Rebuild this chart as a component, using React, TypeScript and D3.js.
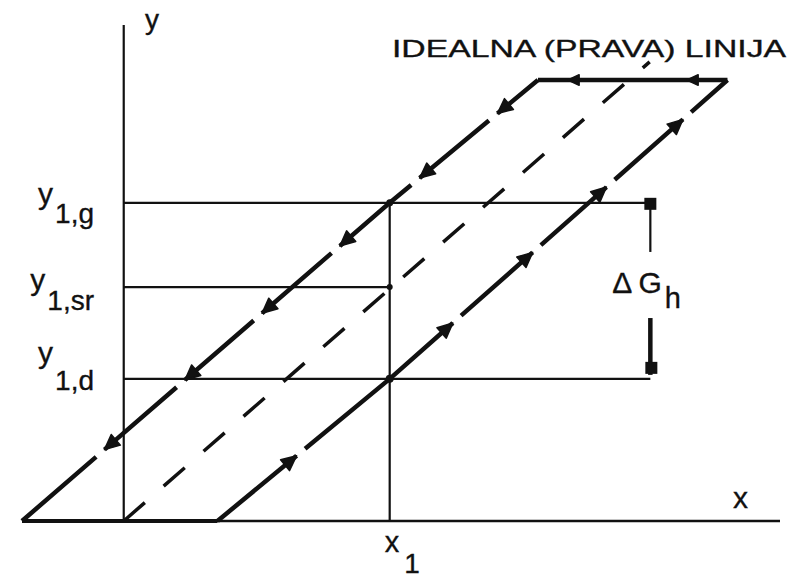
import React from "react";
import * as d3 from "d3";

// Hysteresis loop around the ideal straight characteristic y = f(x)
type Pt = [number, number];

const X_DOMAIN: Pt = [-1.53, 9.87];
const Y_DOMAIN: Pt = [0, 8.48];

const x1 = 4;
const levels = [
  { key: "g", value: 5.44, sub: "1,g" },
  { key: "sr", value: 4.0, sub: "1,sr" },
  { key: "d", value: 2.43, sub: "1,d" },
];
const levelLineEnd = 7.92;

// branches of the loop, listed in the direction of travel
const descending: Pt[] = [
  [6.23, 7.54],
  [4, 5.44],
  [-1.53, 0],
];
const ascending: Pt[] = [
  [1.41, 0],
  [4, 2.43],
  [9.08, 7.54],
];
const topEdge: Pt[] = [
  [9.08, 7.54],
  [6.23, 7.54],
];
const bottomEdge: Pt[] = [
  [-1.53, 0],
  [1.41, 0],
];
const ideal: Pt[] = [
  [0, 0],
  [7.91, 7.85],
];

// x positions of the direction arrows on each branch
const descendingArrows = [5.62, 4.45, 3.25, 2.08, 0.92, -0.29];
const ascendingArrows = [2.6, 4.95, 6.15, 7.26, 8.41];
const topArrows = [8.47, 6.68];

// extent of the ΔG_h dimension marks
const deltaTopEnd = 4.6;
const deltaBottomStart = 3.47;

const W = 793;
const H = 581;
const INK = "#111";
const FONT = "'Liberation Sans', Arial, sans-serif";

const xs = d3.scaleLinear().domain(X_DOMAIN).range([22, 780]);
const ys = d3.scaleLinear().domain(Y_DOMAIN).range([521, 25]);

const toPx = (p: Pt): Pt => [xs(p[0]), ys(p[1])];

function Branch({
  pts,
  arrows,
  gap,
  width,
  head = 1,
}: {
  pts: Pt[];
  arrows: number[];
  gap: number;
  width: number;
  head?: number;
}) {
  const px = pts.map(toPx);
  // cumulative pixel length along the polyline
  const cum: number[] = [0];
  for (let i = 1; i < px.length; i++) {
    cum.push(cum[i - 1] + Math.hypot(px[i][0] - px[i - 1][0], px[i][1] - px[i - 1][1]));
  }
  const total = cum[cum.length - 1];
  const heads = arrows.map((ax) => {
    let seg = 0;
    for (let i = 0; i < pts.length - 1; i++) {
      const a = pts[i][0];
      const b = pts[i + 1][0];
      if ((ax - a) * (ax - b) <= 0) {
        seg = i;
        break;
      }
    }
    const a = pts[seg];
    const b = pts[seg + 1];
    const t = (ax - a[0]) / (b[0] - a[0]);
    const pa = px[seg];
    const pb = px[seg + 1];
    const x = pa[0] + t * (pb[0] - pa[0]);
    const y = pa[1] + t * (pb[1] - pa[1]);
    const dist = cum[seg] + t * (cum[seg + 1] - cum[seg]);
    const ang = Math.atan2(pb[1] - pa[1], pb[0] - pa[0]);
    return { x, y, dist, ang };
  });
  heads.sort((p, q) => p.dist - q.dist);

  let dash: string | undefined;
  if (gap > 0) {
    const arr: number[] = [];
    let pos = 0;
    for (const h of heads) {
      arr.push(Math.max(0.1, h.dist - pos), gap);
      pos = h.dist + gap;
    }
    arr.push(Math.max(0.1, total - pos + 1), 0);
    dash = arr.join(" ");
  }

  const line = d3.line<Pt>()(px) ?? "";
  const L = 15 * head;
  const hw = 7 * head;
  return (
    <g>
      <path d={line} fill="none" stroke={INK} strokeWidth={width} strokeDasharray={dash} strokeLinecap="butt" />
      {heads.map((h, i) => {
        const c = Math.cos(h.ang);
        const s = Math.sin(h.ang);
        const bx = h.x - L * c;
        const by = h.y - L * s;
        const pts2 = [
          [h.x, h.y],
          [bx - hw * s, by + hw * c],
          [bx + hw * s, by - hw * c],
        ]
          .map((p) => p.join(","))
          .join(" ");
        return <polygon key={i} points={pts2} fill={INK} stroke={INK} strokeWidth={1.5} strokeLinejoin="round" />;
      })}
    </g>
  );
}

export default function App() {
  const x0 = xs(0);
  const y0 = ys(0);
  const xx1 = xs(x1);
  const lv = Object.fromEntries(levels.map((l) => [l.key, ys(l.value)]));
  const xd = xs(levelLineEnd);

  // label offsets (main glyph baseline, subscript drop)
  const labelBase: Record<string, number> = { g: 1, sr: 3, d: -16 };
  const labelSub: Record<string, number> = { g: 19, sr: 20, d: 27 };

  const textStyle = { fill: INK, stroke: INK, strokeWidth: 0.35 };

  return (
    <svg
      width={W}
      height={H}
      viewBox={`0 0 ${W} ${H}`}
      style={{ position: "absolute", left: 0, top: 0, background: "#fff" }}
      fontFamily={FONT}
    >
      <rect width={W} height={H} fill="#fff" />

      {/* axes */}
      <line x1={x0} y1={ys(Y_DOMAIN[1])} x2={x0} y2={y0} stroke={INK} strokeWidth={2.2} />
      <line x1={xs(X_DOMAIN[0])} y1={y0} x2={xs(X_DOMAIN[1])} y2={y0} stroke={INK} strokeWidth={2.4} />

      {/* x1 vertical */}
      <line x1={xx1} y1={lv.g} x2={xx1} y2={y0} stroke={INK} strokeWidth={2.2} />

      {/* level lines */}
      <line x1={x0} y1={lv.g} x2={xd} y2={lv.g} stroke={INK} strokeWidth={2.2} />
      <line x1={x0} y1={lv.sr} x2={xx1} y2={lv.sr} stroke={INK} strokeWidth={2.2} />
      <line x1={x0} y1={lv.d} x2={xd} y2={lv.d} stroke={INK} strokeWidth={2.2} />

      {/* ideal straight line */}
      <path
        d={d3.line<Pt>()(ideal.map(toPx)) ?? ""}
        fill="none"
        stroke={INK}
        strokeWidth={3.5}
        strokeDasharray="28 25"
      />

      {/* hysteresis loop */}
      <Branch pts={bottomEdge} arrows={[]} gap={0} width={4} />
      <Branch pts={descending} arrows={descendingArrows} gap={11} width={4.5} />
      <Branch pts={ascending} arrows={ascendingArrows} gap={11} width={4.5} />
      <Branch pts={topEdge} arrows={topArrows} gap={0} width={4.5} head={0.75} />

      {/* intersection points */}
      <circle cx={xx1} cy={lv.g} r={3.5} fill={INK} />
      <circle cx={xx1} cy={lv.sr} r={3} fill={INK} />
      <circle cx={xx1} cy={lv.d} r={4} fill={INK} />

      {/* ΔG_h dimension */}
      <line x1={xd} y1={lv.g} x2={xd} y2={ys(deltaTopEnd)} stroke={INK} strokeWidth={2.2} />
      <rect x={xd - 6} y={lv.g - 5} width={12} height={12} fill={INK} />
      <line x1={xd} y1={ys(deltaBottomStart)} x2={xd} y2={lv.d - 4} stroke={INK} strokeWidth={4.5} />
      <rect x={xd - 5} y={lv.d - 17} width={12} height={12} fill={INK} />
      <text x={xd - 38} y={293} fontSize={30} {...textStyle}>
        Δ
        <tspan dx={6}>G</tspan>
        <tspan dx={3} dy={15} fontSize={29}>
          h
        </tspan>
      </text>

      {/* axis names */}
      <text x={145} y={29} fontSize={28} {...textStyle}>
        y
      </text>
      <text x={733} y={508} fontSize={30} {...textStyle}>
        x
      </text>
      <text x={xx1 - 5} y={552} fontSize={29} {...textStyle}>
        x
        <tspan dx={5} dy={21} fontSize={28}>
          1
        </tspan>
      </text>

      {/* level labels */}
      {levels.map((l) => (
        <text key={l.key} x={94} y={ys(l.value) + labelBase[l.key]} fontSize={30} textAnchor="end" {...textStyle}>
          y
          <tspan dx={2} dy={labelSub[l.key]} fontSize={28}>
            {l.sub}
          </tspan>
        </text>
      ))}

      {/* caption */}
      <text x={392} y={57} fontSize={24} textLength={394} lengthAdjust="spacingAndGlyphs" {...textStyle}>
        IDEALNA (PRAVA) LINIJA
      </text>
    </svg>
  );
}
